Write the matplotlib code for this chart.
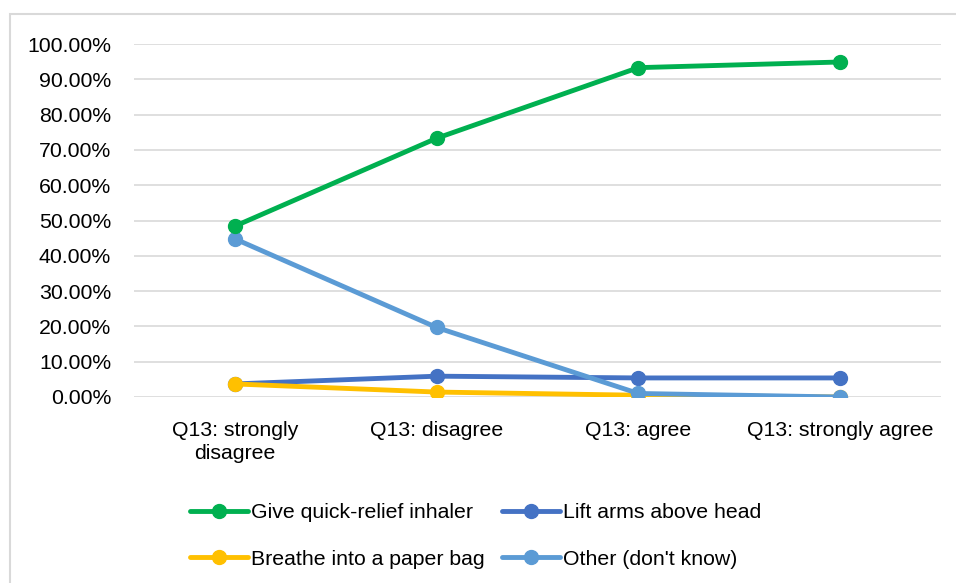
import matplotlib.pyplot as plt
from matplotlib.patches import Rectangle
from matplotlib.ticker import PercentFormatter

plt.rcParams["font.family"] = ["Liberation Sans", "DejaVu Sans"]

CATEGORIES = ["Q13: strongly\ndisagree", "Q13: disagree", "Q13: agree", "Q13: strongly agree"]
INHALER = [48.4, 73.3, 93.3, 94.9]
LIFT_ARMS = [3.7, 5.9, 5.4, 5.4]
PAPER_BAG = [3.7, 1.4, 0.5, 0.0]
OTHER = [44.8, 19.7, 1.0, 0.0]

SERIES = [
    ("Give quick-relief inhaler", INHALER, "#00b050", 5),
    ("Lift arms above head", LIFT_ARMS, "#4472c4", 3),
    ("Breathe into a paper bag", PAPER_BAG, "#ffc000", 3.5),
    ("Other (don't know)", OTHER, "#5b9bd5", 4),
]
FONT_SIZE = 15.3

fig = plt.figure(figsize=(9.56, 5.83), dpi=100)
fig.patches.append(
    Rectangle((10 / 956, -0.1), 1.2, 1 - 14 / 583 + 0.1, transform=fig.transFigure,
              fill=False, edgecolor="#d9d9d9", linewidth=1.5)
)
ax = fig.add_axes([134 / 956, 1 - 397 / 583, (941 - 134) / 956, (397 - 44) / 583])

x = range(len(CATEGORIES))
handles = {}
for label, values, color, z in SERIES:
    (line,) = ax.plot(x, values, color=color, linewidth=3.5, marker="o", markersize=10,
                      label=label, zorder=z, solid_capstyle="round")
    handles[label] = line

ax.set_xlim(-0.5, len(CATEGORIES) - 0.5)
ax.set_ylim(0, 100)
ax.set_yticks(range(0, 101, 10))
ax.yaxis.set_major_formatter(PercentFormatter(100, decimals=2))
ax.set_xticks(list(x))
ax.set_xticklabels(CATEGORIES, linespacing=1.22)
ax.tick_params(axis="both", length=0, labelsize=FONT_SIZE, colors="#000000")
ax.tick_params(axis="x", pad=17.5)
ax.tick_params(axis="y", pad=16.5)
ax.grid(axis="y", color="#d9d9d9", linewidth=1.2)
ax.set_axisbelow(True)
for spine in ax.spines.values():
    spine.set_visible(False)

order = ["Give quick-relief inhaler", "Breathe into a paper bag",
         "Lift arms above head", "Other (don't know)"]
fig.legend([handles[k] for k in order], order, ncol=2, loc="upper left",
           bbox_to_anchor=(171 / 956, 1 - 484 / 583), frameon=False, fontsize=FONT_SIZE,
           handlelength=2.7, handletextpad=0.15, columnspacing=0.85, labelspacing=1.3)

fig.savefig("out.png", dpi=100)
